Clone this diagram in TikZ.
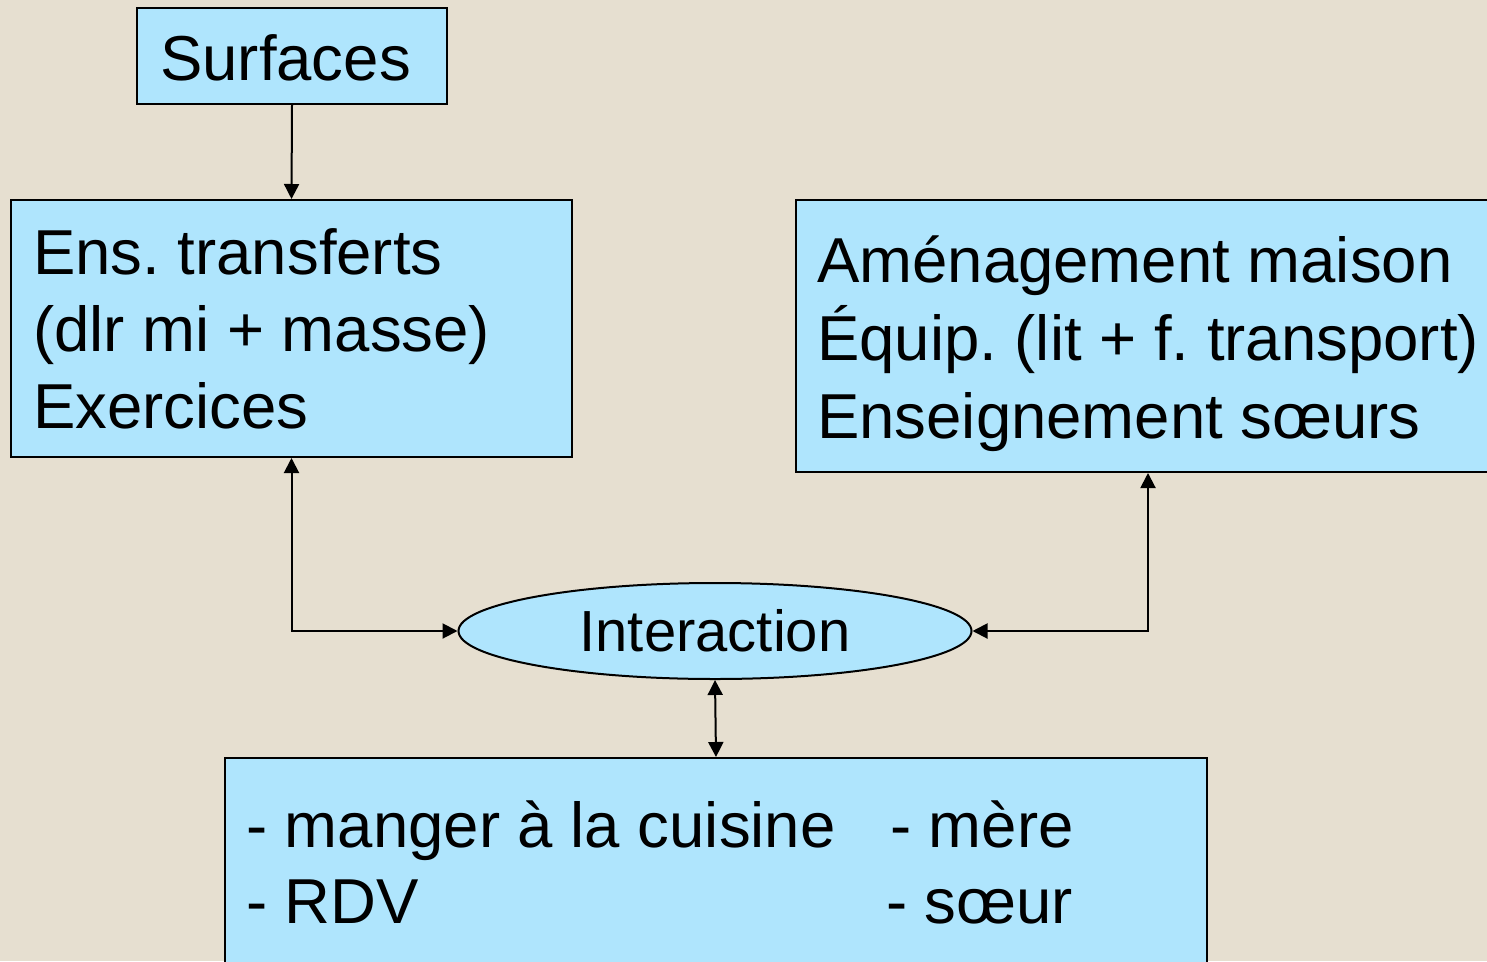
\documentclass[tikz,border=0pt]{standalone}
\usepackage{fontspec}
\setmainfont{Liberation Sans}
\frenchspacing
\usetikzlibrary{arrows.meta,shapes.geometric}
\definecolor{paper}{RGB}{230,223,208}
\definecolor{boxfill}{RGB}{175,229,253}
\tikzset{
  panel/.style={draw=black, line width=2pt, fill=boxfill, inner sep=0pt, anchor=north west},
  bigtext/.style={font=\fontsize{63.5}{77}\selectfont, inner sep=0pt, anchor=base west, align=left},
  link/.style={line width=2pt, -{Triangle[length=15pt,width=15pt]}},
  dlink/.style={line width=2pt, {Triangle[length=15pt,width=15pt]}-{Triangle[length=15pt,width=15pt]}}
}
\begin{document}
\begin{tikzpicture}[x=1pt,y=-1pt]
  \clip (0,0) rectangle (1487,961);
  \fill[paper] (0,0) rectangle (1487,961);

  % boxes
  \node[panel, minimum width=310pt, minimum height=96pt] (surf) at (136,7) {};
  \node[panel, minimum width=561pt, minimum height=257pt] (ens) at (10,199) {};
  \node[panel, minimum width=704pt, minimum height=272pt] (amen) at (795,199) {};
  \node[panel, minimum width=982pt, minimum height=260pt] (bottom) at (224,757) {};
  \node[draw=black, line width=2pt, fill=boxfill, ellipse, inner sep=0pt,
        minimum width=513pt, minimum height=96pt,
        font=\fontsize{58}{70}\selectfont] (inter) at (715,631) {Interaction};

  % texts (multi-line nodes are placed by the baseline of their last line)
  \node[bigtext] (tsurf) at (160,80) {Surfaces};
  \node[bigtext] (tens) at (33,428) {Ens. transferts\\(dlr mi + masse)\\Exercices};
  \node[bigtext, font=\fontsize{63.5}{78}\selectfont] (tamen) at (817,438)
       {Aménagement maison\\Équip. (lit + f. transport)\\Enseignement sœurs};
  \node[bigtext, font=\fontsize{63.5}{76}\selectfont] (tleft) at (246,923) {- manger à la cuisine\\- RDV};
  \node[bigtext] (tmere) at (890,847) {- mère};
  \node[bigtext] (tsoeur) at (886,923) {- sœur};

  % connectors
  \draw[link] (surf.south) -- (ens.north);
  \draw[dlink] (ens.south) |- (inter.west);
  \draw[dlink] (amen.south) |- (inter.east);
  \draw[dlink] (inter.south) -- (bottom.north);
\end{tikzpicture}
\end{document}
